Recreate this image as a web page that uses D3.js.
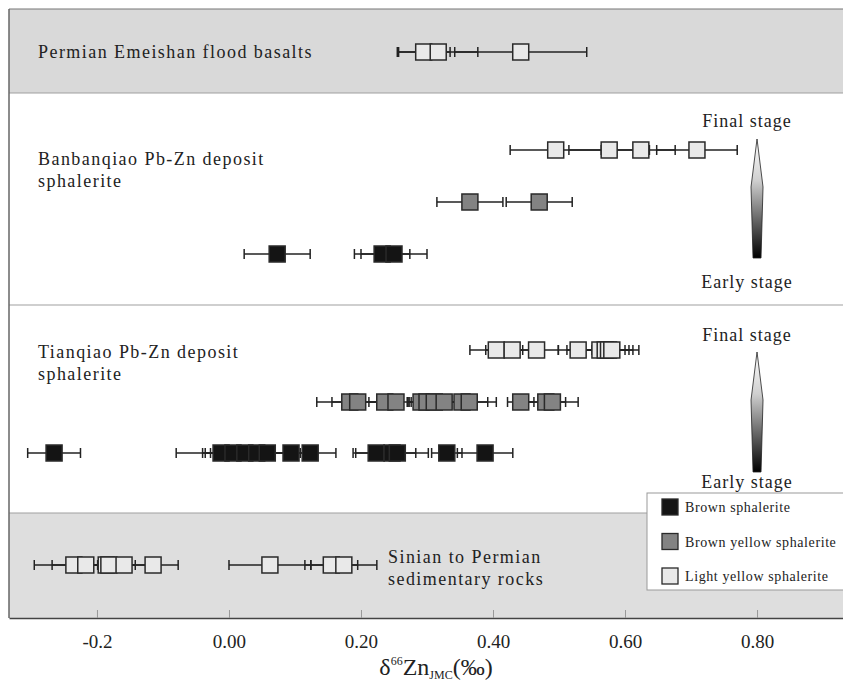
<!DOCTYPE html>
<html><head><meta charset="utf-8">
<script src="https://cdn.jsdelivr.net/npm/d3@7"></script>
<style>
html,body{margin:0;padding:0;background:#fff;}
svg{display:block;}
text{font-family:"Liberation Serif","Times New Roman",serif;fill:#222;}
</style></head>
<body>
<svg id="chart" width="843" height="681"></svg>
<script>
// ---- data: [value, 2SD] per sample ----
const permianBasalts = [[0.295,0.04],[0.317,0.06],[0.442,0.10]];
const banLight = [[0.495,0.069],[0.576,0.061],[0.624,0.052],[0.709,0.061]];
const banBrownYellow = [[0.365,0.05],[0.470,0.05]];
const banBrown = [[0.073,0.05],[0.232,0.042],[0.25,0.05]];
const tianLight = [[0.405,0.04],[0.429,0.04],[0.466,0.033],[0.529,0.03],[0.562,0.05],[0.57,0.036],[0.575,0.025],[0.58,0.041]];
const tianBrownYellow = [[0.183,0.05],[0.195,0.039],[0.236,0.024],[0.253,0.02],[0.291,0.02],[0.30,0.03],[0.311,0.04],[0.326,0.05],[0.353,0.039],[0.364,0.041],[0.442,0.02],[0.48,0.03],[0.49,0.039]];
const tianBrown = [[-0.265,0.04],[-0.012,0.068],[0.006,0.046],[0.024,0.06],[0.042,0.07],[0.058,0.05],[0.094,0.04],[0.123,0.039],[0.223,0.035],[0.247,0.055],[0.255,0.028],[0.33,0.023],[0.388,0.042]];
const sinianRocks = [[-0.235,0.06],[-0.217,0.051],[-0.186,0.03],[-0.182,0.04],[-0.159,0.04],[-0.115,0.038],[0.062,0.062],[0.155,0.04],[0.174,0.05]];

const tickValues = [-0.2, 0, 0.2, 0.4, 0.6, 0.8];
const tickLabels = ["-0.2","0.00","0.20","0.40","0.60","0.80"];
const legendLabels = ["Brown sphalerite","Brown yellow sphalerite","Light yellow sphalerite"];
const typeColors = {brown:"#141414", brownYellow:"#838383", light:"#e9e9e9"};
const serif = '"Liberation Serif","Times New Roman",serif';

const svg = d3.select("#chart");
const x = d3.scaleLinear().domain([-0.3333, 0.9333]).range([9, 845]);

const plotTop = 9, plotBottom = 618;
const panels = [
  {y0:plotTop, y1:93, fill:"#d9d9d9"},
  {y0:93, y1:305, fill:"#ffffff"},
  {y0:305, y1:513, fill:"#ffffff"},
  {y0:513, y1:plotBottom, fill:"#dedede"}
];
svg.selectAll("rect.panel").data(panels).join("rect")
  .attr("x", 9).attr("y", d=>d.y0).attr("width", 843-9).attr("height", d=>d.y1-d.y0)
  .attr("fill", d=>d.fill);
svg.selectAll("line.sep").data([93,305,513]).join("line")
  .attr("x1",9).attr("x2",843).attr("y1",d=>d).attr("y2",d=>d)
  .attr("stroke","#a0a0a0").attr("stroke-width",1.2);
svg.append("line").attr("x1",9).attr("x2",843).attr("y1",plotTop).attr("y2",plotTop)
  .attr("stroke","#777").attr("stroke-width",1.2);
svg.append("line").attr("x1",9).attr("x2",9).attr("y1",plotTop).attr("y2",plotBottom)
  .attr("stroke","#666").attr("stroke-width",1.5);

// axis
const axis = d3.axisBottom(x).tickValues(tickValues)
  .tickFormat((d,i)=>tickLabels[i]).tickSizeInner(-8).tickSizeOuter(0).tickPadding(17);
const ax = svg.append("g").attr("transform",`translate(0,${plotBottom})`).call(axis);
ax.attr("font-family", serif);
ax.select(".domain").attr("stroke","#444").attr("stroke-width",1.5);
ax.selectAll(".tick line").attr("stroke","#999");
ax.selectAll(".tick text").attr("font-size",19).style("font-family",serif).attr("fill","#222");

const title = svg.append("text").attr("x",436).attr("y",675).attr("text-anchor","middle")
  .attr("font-size",24).style("font-family",serif);
title.append("tspan").text("δ");
title.append("tspan").attr("font-size",12).attr("dy",-10).text("66");
title.append("tspan").attr("dy",10).text("Zn");
title.append("tspan").attr("font-size",12).attr("dy",4).text("JMC");
title.append("tspan").attr("dy",-4).text("(‰)");

// rows
const rows = [
  {data:permianBasalts, y:52, type:"light"},
  {data:banLight, y:150, type:"light"},
  {data:banBrownYellow, y:202, type:"brownYellow"},
  {data:banBrown, y:254, type:"brown"},
  {data:tianLight, y:350, type:"light"},
  {data:tianBrownYellow, y:402, type:"brownYellow"},
  {data:tianBrown, y:453, type:"brown"},
  {data:sinianRocks, y:565, type:"light"}
];
const bw = 16, capH = 10;
rows.forEach(r=>{
  const g = svg.append("g");
  g.selectAll("line.err").data(r.data).join("line")
    .attr("x1",d=>x(d[0]-d[1])).attr("x2",d=>x(d[0]+d[1]))
    .attr("y1",r.y).attr("y2",r.y).attr("stroke","#222").attr("stroke-width",1.5);
  const caps = r.data.flatMap(d=>[d[0]-d[1], d[0]+d[1]]);
  g.selectAll("line.cap").data(caps).join("line")
    .attr("x1",d=>x(d)).attr("x2",d=>x(d))
    .attr("y1",r.y-capH/2).attr("y2",r.y+capH/2).attr("stroke","#222").attr("stroke-width",1.5);
  g.selectAll("rect.box").data(r.data).join("rect")
    .attr("x",d=>x(d[0])-bw/2).attr("y",r.y-bw/2).attr("width",bw).attr("height",bw)
    .attr("fill",typeColors[r.type]).attr("stroke","#2a2a2a").attr("stroke-width",1.5);
});

// group labels
const labels = [
  {lines:["Permian Emeishan flood basalts"], x:38, y:58},
  {lines:["Banbanqiao Pb-Zn deposit","sphalerite"], x:38, y:165},
  {lines:["Tianqiao Pb-Zn deposit","sphalerite"], x:38, y:358},
  {lines:["Sinian to Permian","sedimentary rocks"], x:388, y:563}
];
labels.forEach(l=>{
  l.lines.forEach((t,i)=>{
    svg.append("text").attr("x",l.x).attr("y",l.y+i*22).attr("font-size",18)
      .attr("letter-spacing",1.45).text(t);
  });
});

// stage arrows
const defs = svg.append("defs");
const grad = defs.append("linearGradient").attr("id","stageGrad").attr("x1",0).attr("y1",0).attr("x2",0).attr("y2",1);
grad.append("stop").attr("offset","0%").attr("stop-color","#ffffff");
grad.append("stop").attr("offset","35%").attr("stop-color","#cfcfcf");
grad.append("stop").attr("offset","100%").attr("stop-color","#000000");
const arrows = [{tip:139, wide:187, end:258, ft:127, et:288},{tip:352, wide:400, end:472, ft:341, et:488}];
const ax0 = x(0.8);
arrows.forEach(a=>{
  svg.append("path")
    .attr("d",`M${ax0},${a.tip} L${ax0+6},${a.wide} L${ax0+4},${a.end} L${ax0-4},${a.end} L${ax0-6},${a.wide} Z`)
    .attr("fill","url(#stageGrad)").attr("stroke","#222").attr("stroke-width",0.8);
  svg.append("text").attr("x",ax0-10).attr("y",a.ft).attr("text-anchor","middle").attr("font-size",18).attr("letter-spacing",1).text("Final stage");
  svg.append("text").attr("x",ax0-10).attr("y",a.et).attr("text-anchor","middle").attr("font-size",18).attr("letter-spacing",1).text("Early stage");
});

// legend
const lg = svg.append("g");
lg.append("rect").attr("x",647).attr("y",493).attr("width",200).attr("height",97)
  .attr("fill","#fff").attr("stroke","#999").attr("stroke-width",1);
const lTypes = ["brown","brownYellow","light"];
lTypes.forEach((t,i)=>{
  const cy = 507 + i*34.5;
  lg.append("rect").attr("x",662).attr("y",cy-8).attr("width",16).attr("height",16)
    .attr("fill",typeColors[t]).attr("stroke","#2a2a2a").attr("stroke-width",1.3);
  lg.append("text").attr("x",685).attr("y",cy+5).attr("font-size",14).attr("letter-spacing",0.6).text(legendLabels[i]);
});
</script>
</body></html>
